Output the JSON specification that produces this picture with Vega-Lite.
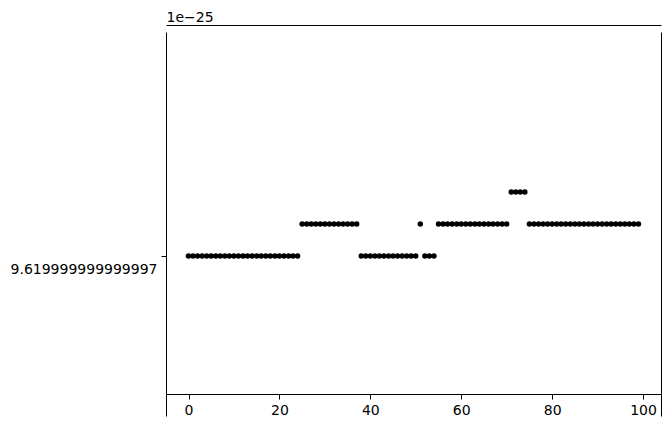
{
  "$schema": "https://vega.github.io/schema/vega-lite/v6.json",
  "width": 495,
  "height": 384,
  "autosize": {"type": "none"},
  "padding": {"left": 166, "top": 32, "right": 10, "bottom": 12},
  "background": "#ffffff",
  "view": {"stroke": null},
  "config": {
    "font": "DejaVu Sans",
    "axis": {
      "grid": false,
      "domainColor": "#000000",
      "domainWidth": 1,
      "tickColor": "#000000",
      "tickWidth": 1,
      "tickSize": 5,
      "labelColor": "#000000",
      "labelFont": "DejaVu Sans",
      "labelFontSize": 14,
      "titleFont": "DejaVu Sans",
      "titleFontWeight": "normal",
      "titleColor": "#000000"
    }
  },
  "data": {
    "values": [
      {"i": 0, "step": 0}, {"i": 1, "step": 0}, {"i": 2, "step": 0}, {"i": 3, "step": 0}, {"i": 4, "step": 0},
      {"i": 5, "step": 0}, {"i": 6, "step": 0}, {"i": 7, "step": 0}, {"i": 8, "step": 0}, {"i": 9, "step": 0},
      {"i": 10, "step": 0}, {"i": 11, "step": 0}, {"i": 12, "step": 0}, {"i": 13, "step": 0}, {"i": 14, "step": 0},
      {"i": 15, "step": 0}, {"i": 16, "step": 0}, {"i": 17, "step": 0}, {"i": 18, "step": 0}, {"i": 19, "step": 0},
      {"i": 20, "step": 0}, {"i": 21, "step": 0}, {"i": 22, "step": 0}, {"i": 23, "step": 0}, {"i": 24, "step": 0},
      {"i": 25, "step": 1}, {"i": 26, "step": 1}, {"i": 27, "step": 1}, {"i": 28, "step": 1}, {"i": 29, "step": 1},
      {"i": 30, "step": 1}, {"i": 31, "step": 1}, {"i": 32, "step": 1}, {"i": 33, "step": 1}, {"i": 34, "step": 1},
      {"i": 35, "step": 1}, {"i": 36, "step": 1}, {"i": 37, "step": 1},
      {"i": 38, "step": 0}, {"i": 39, "step": 0}, {"i": 40, "step": 0}, {"i": 41, "step": 0}, {"i": 42, "step": 0},
      {"i": 43, "step": 0}, {"i": 44, "step": 0}, {"i": 45, "step": 0}, {"i": 46, "step": 0}, {"i": 47, "step": 0},
      {"i": 48, "step": 0}, {"i": 49, "step": 0}, {"i": 50, "step": 0},
      {"i": 51, "step": 1},
      {"i": 52, "step": 0}, {"i": 53, "step": 0}, {"i": 54, "step": 0},
      {"i": 55, "step": 1}, {"i": 56, "step": 1}, {"i": 57, "step": 1}, {"i": 58, "step": 1}, {"i": 59, "step": 1},
      {"i": 60, "step": 1}, {"i": 61, "step": 1}, {"i": 62, "step": 1}, {"i": 63, "step": 1}, {"i": 64, "step": 1},
      {"i": 65, "step": 1}, {"i": 66, "step": 1}, {"i": 67, "step": 1}, {"i": 68, "step": 1}, {"i": 69, "step": 1},
      {"i": 70, "step": 1},
      {"i": 71, "step": 2}, {"i": 72, "step": 2}, {"i": 73, "step": 2}, {"i": 74, "step": 2},
      {"i": 75, "step": 1}, {"i": 76, "step": 1}, {"i": 77, "step": 1}, {"i": 78, "step": 1}, {"i": 79, "step": 1},
      {"i": 80, "step": 1}, {"i": 81, "step": 1}, {"i": 82, "step": 1}, {"i": 83, "step": 1}, {"i": 84, "step": 1},
      {"i": 85, "step": 1}, {"i": 86, "step": 1}, {"i": 87, "step": 1}, {"i": 88, "step": 1}, {"i": 89, "step": 1},
      {"i": 90, "step": 1}, {"i": 91, "step": 1}, {"i": 92, "step": 1}, {"i": 93, "step": 1}, {"i": 94, "step": 1},
      {"i": 95, "step": 1}, {"i": 96, "step": 1}, {"i": 97, "step": 1}, {"i": 98, "step": 1}, {"i": 99, "step": 1}
    ]
  },
  "layer": [
    {
      "mark": {"type": "point", "filled": true, "color": "#000000", "opacity": 1, "size": 30},
      "encoding": {
        "x": {
          "field": "i",
          "type": "quantitative",
          "scale": {"domain": [-4.95, 103.95], "nice": false, "zero": false},
          "axis": {
            "orient": "bottom",
            "offset": -22,
            "title": null,
            "values": [0, 20, 40, 60, 80, 100],
            "labelPadding": 4,
            "labelFlush": false
          }
        },
        "y": {
          "field": "step",
          "type": "quantitative",
          "scale": {"domain": [-5, 7], "nice": false, "zero": false},
          "axis": {
            "orient": "left",
            "title": null,
            "values": [0],
            "labelExpr": "datum.value == 0 ? '9.619999999999997' : ''",
            "labelOffset": 13,
            "labelPadding": 4,
            "labelFlush": false
          }
        }
      }
    },
    {
      "mark": {"type": "point", "filled": true, "opacity": 0},
      "encoding": {
        "x": {
          "field": "i",
          "type": "quantitative",
          "axis": {
            "orient": "top",
            "offset": 7,
            "labels": false,
            "ticks": false,
            "title": "1e−25",
            "titleFontSize": 14,
            "titleAlign": "left",
            "titleAnchor": "start",
            "titleBaseline": "alphabetic",
            "titleX": 0,
            "titleY": -4
          }
        },
        "y": {
          "field": "step",
          "type": "quantitative",
          "axis": {"orient": "right", "labels": false, "ticks": false, "title": null}
        }
      }
    }
  ],
  "resolve": {"axis": {"x": "independent", "y": "independent"}}
}
